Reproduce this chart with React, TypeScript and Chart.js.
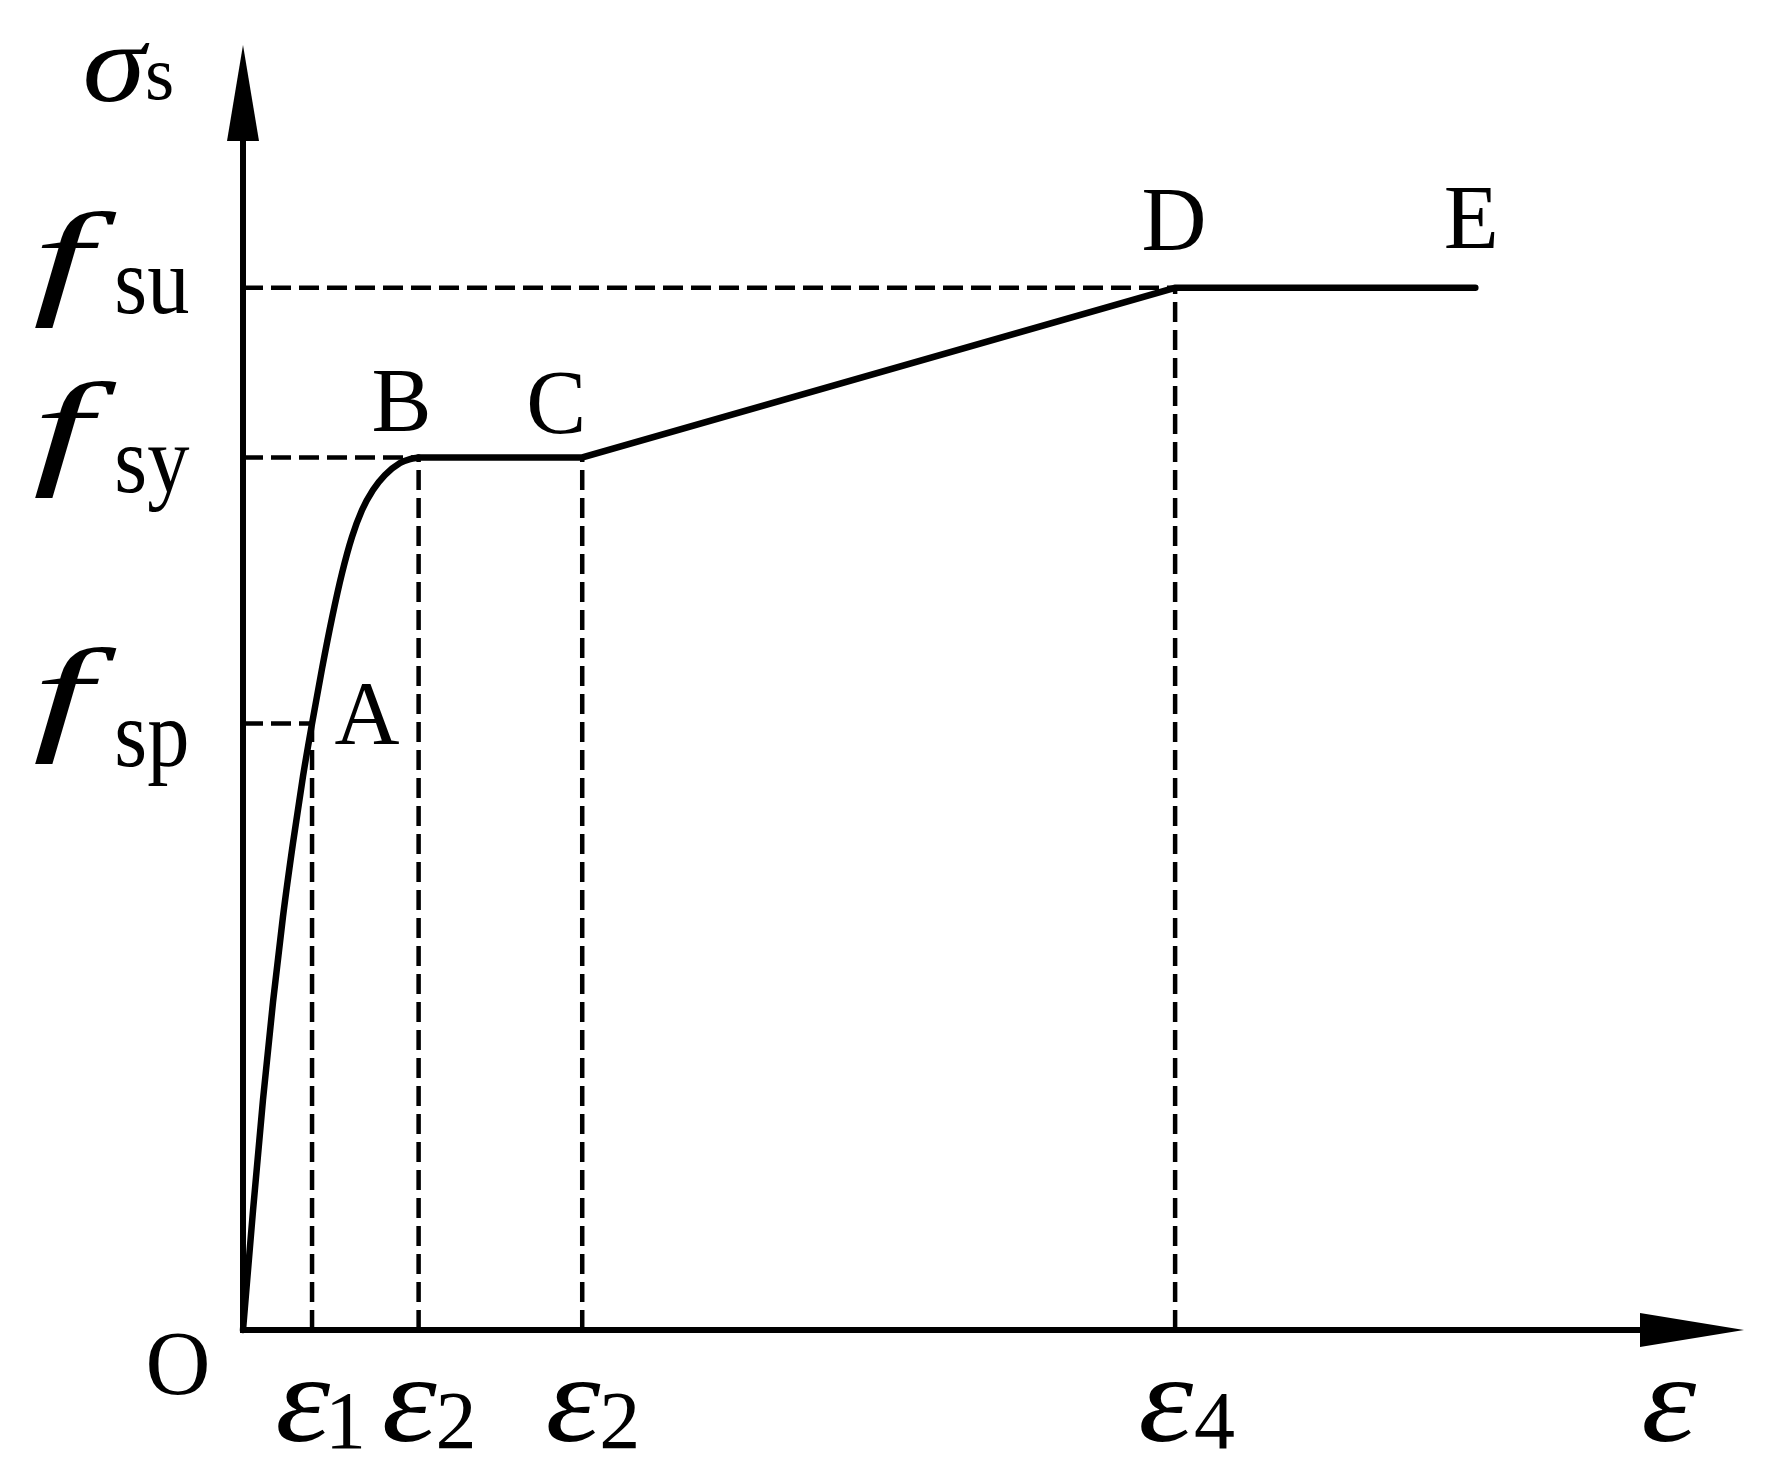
import { useEffect, useRef } from 'react';
import { Chart, registerables } from 'chart.js';

Chart.register(...registerables);

// ---- Data (axis units: strain 0..100, stress 0..100) ----
const curveStrain = [0, 0.67, 1.33, 2.0, 2.66, 3.33, 4.0, 4.6, 5.26, 5.93, 6.6, 7.26, 7.93, 8.66, 9.46, 10.46, 11.13, 11.7];
const curveStress = [0, 9.34, 17.9, 25.53, 32.14, 37.9, 43.11, 47.2, 51.44, 55.41, 58.91, 61.71, 63.81, 65.37, 66.54, 67.47, 67.78, 67.9];

const pointLabels = ['O', 'A', 'B', 'C', 'D', 'E'];
const pointStrain = [0, 4.6, 11.7, 22.6, 62.1, 82.1];
const pointStress = [0, 47.2, 67.9, 67.9, 81.1, 81.1];

const xTickValues = [4.6, 11.7, 22.6, 62.1];
const xTickSubs = ['1', '2', '2', '4'];
const xTickReach = [47.2, 67.9, 67.9, 81.1];

const yTickValues = [47.2, 67.9, 81.1];
const yTickSubs = ['sp', 'sy', 'su'];
const yTickReach = [4.6, 11.7, 62.1];

// ---- Styles ----
const SERIF = '"Liberation Serif", "Times New Roman", serif';
const ITALIC_CANDIDATES = ['"Liberation Serif"', '"DejaVu Serif"', '"Times New Roman"', 'serif', '"Noto Sans"', '"Open Sans"'];
const subBaseline: Record<string, number> = { sp: 43, sy: 35, su: 25 };
const letterOffset: Record<string, [number, number]> = {
  O: [-65, 64],
  A: [55, 21],
  B: [-17, -26],
  C: [-26, -24],
  D: [-1, -38],
  E: [-4, -40],
};

let italicFamily: string | null = null;
let italicTrue = false;
function pickItalic(ctx: CanvasRenderingContext2D) {
  if (italicFamily) return italicFamily;
  for (const fam of ITALIC_CANDIDATES) {
    ctx.font = `italic 100px ${fam}`;
    const m = ctx.measureText('f');
    if (m.actualBoundingBoxDescent > 12) {
      italicFamily = fam;
      italicTrue = true;
      return fam;
    }
  }
  italicFamily = SERIF;
  return SERIF;
}

function fitGlyph(
  ctx: CanvasRenderingContext2D,
  text: string,
  style: string,
  family: string,
  left: number,
  top: number,
  width: number | null,
  height: number,
) {
  ctx.font = `${style} 100px ${family}`;
  const m = ctx.measureText(text);
  const h = m.actualBoundingBoxAscent + m.actualBoundingBoxDescent;
  const w = m.actualBoundingBoxLeft + m.actualBoundingBoxRight;
  const ky = height / h;
  const kx = width ? width / w : ky;
  ctx.save();
  ctx.translate(left, top);
  ctx.scale(kx, ky);
  ctx.textAlign = 'left';
  ctx.textBaseline = 'alphabetic';
  ctx.fillText(text, m.actualBoundingBoxLeft, m.actualBoundingBoxAscent);
  ctx.restore();
  return left + w * kx;
}

function drawAt(ctx: CanvasRenderingContext2D, text: string, font: string, left: number, baseline: number, sx = 1) {
  ctx.font = font;
  const m = ctx.measureText(text);
  ctx.save();
  ctx.translate(left, baseline);
  ctx.scale(sx, 1);
  ctx.textAlign = 'left';
  ctx.textBaseline = 'alphabetic';
  ctx.fillText(text, m.actualBoundingBoxLeft, 0);
  ctx.restore();
}

const axesPlugin = {
  id: 'axesArrows',
  beforeDatasetsDraw(chart: any) {
    const { ctx, chartArea } = chart;
    const xs = chart.scales.x;
    const ys = chart.scales.y;
    const x0 = xs.getPixelForValue(0);
    const y0 = ys.getPixelForValue(0);
    ctx.save();
    ctx.strokeStyle = '#000';
    ctx.fillStyle = '#000';
    ctx.lineWidth = 6;
    ctx.lineCap = 'butt';
    ctx.beginPath();
    ctx.moveTo(x0, y0 + 3);
    ctx.lineTo(x0, chartArea.top + 60);
    ctx.stroke();
    ctx.beginPath();
    ctx.moveTo(x0 - 3, y0);
    ctx.lineTo(chartArea.right - 60, y0);
    ctx.stroke();
    ctx.beginPath();
    ctx.moveTo(x0, chartArea.top);
    ctx.lineTo(x0 - 16, chartArea.top + 96);
    ctx.lineTo(x0 + 16, chartArea.top + 96);
    ctx.closePath();
    ctx.fill();
    ctx.beginPath();
    ctx.moveTo(chartArea.right, y0);
    ctx.lineTo(chartArea.right - 104, y0 - 17);
    ctx.lineTo(chartArea.right - 104, y0 + 17);
    ctx.closePath();
    ctx.fill();
    ctx.restore();
  },
  afterDraw(chart: any) {
    const { ctx, chartArea } = chart;
    const xs = chart.scales.x;
    const ys = chart.scales.y;
    const x0 = xs.getPixelForValue(0);
    const y0 = ys.getPixelForValue(0);
    ctx.save();
    ctx.fillStyle = '#000';
    const ital = pickItalic(ctx);
    const fWidth = italicTrue ? 83 : 58;

    // y-axis tick labels f_sp, f_sy, f_su
    yTickValues.forEach((v, i) => {
      const py = ys.getPixelForValue(v);
      fitGlyph(ctx, 'f', 'italic', ital, x0 - 208, py - 76, fWidth, 116);
      drawAt(ctx, yTickSubs[i], `96px ${SERIF}`, x0 - 126, py + subBaseline[yTickSubs[i]], 0.88);
    });

    // x-axis tick labels eps_i
    xTickValues.forEach((v, i) => {
      const px = xs.getPixelForValue(v);
      const right = fitGlyph(ctx, 'ε', 'italic', ital, px - 34, y0 + 52, 53, 60);
      drawAt(ctx, xTickSubs[i], `82px ${SERIF}`, right + 1, y0 + 118);
    });

    // axis titles
    fitGlyph(ctx, 'σ', 'italic', ital, x0 - 158, chartArea.top - 2, 65, 59);
    fitGlyph(ctx, 's', '', SERIF, x0 - 95, chartArea.top + 18, 24, 37);
    fitGlyph(ctx, 'ε', 'italic', ital, chartArea.right - 100, y0 + 52, 53, 60);

    // point letters
    ctx.font = `90px ${SERIF}`;
    ctx.textAlign = 'center';
    ctx.textBaseline = 'alphabetic';
    pointLabels.forEach((lab, i) => {
      const px = xs.getPixelForValue(pointStrain[i]);
      const py = ys.getPixelForValue(pointStress[i]);
      const [dx, dy] = letterOffset[lab];
      ctx.fillText(lab, px + dx, py + dy);
    });
    ctx.restore();
  },
};

export default function App() {
  const ref = useRef<HTMLCanvasElement | null>(null);

  useEffect(() => {
    document.body.style.margin = '0';
    const canvas = ref.current;
    if (!canvas) return;

    const dashed = {
      borderColor: '#000',
      borderWidth: 4.5,
      borderDash: [20, 8],
      pointRadius: 0,
      tension: 0,
      clip: false,
      order: 1,
    };

    const datasets: any[] = [
      {
        data: curveStrain.map((x, i) => ({ x, y: curveStress[i] })),
        borderColor: '#000',
        borderWidth: 6.5,
        cubicInterpolationMode: 'monotone',
        pointRadius: 0,
        clip: false,
        order: 0,
        borderCapStyle: 'round',
        borderJoinStyle: 'round',
      },
      {
        data: pointStrain.slice(2).map((x, i) => ({ x, y: pointStress[i + 2] })),
        borderColor: '#000',
        borderWidth: 6.5,
        tension: 0,
        pointRadius: 0,
        clip: false,
        order: 0,
        borderCapStyle: 'round',
        borderJoinStyle: 'miter',
      },
      ...yTickValues.map((v, i) => ({
        ...dashed,
        data: [
          { x: 0, y: v },
          { x: yTickReach[i], y: v },
        ],
      })),
      ...xTickValues.map((v, i) => ({
        ...dashed,
        data: [
          { x: v, y: 0 },
          { x: v, y: xTickReach[i] },
        ],
      })),
    ];

    const chart = new Chart(canvas, {
      type: 'line',
      data: { datasets },
      options: {
        responsive: false,
        animation: false,
        devicePixelRatio: 1,
        layout: { padding: { left: 243, right: 26, top: 45, bottom: 146 } },
        scales: {
          x: { type: 'linear', min: 0, max: 100, display: false },
          y: { type: 'linear', min: 0, max: 100, display: false },
        },
        plugins: { legend: { display: false }, tooltip: { enabled: false } },
        elements: { point: { radius: 0 } },
      },
      plugins: [axesPlugin],
    } as any);

    return () => chart.destroy();
  }, []);

  return (
    <div style={{ width: 1770, height: 1476, background: '#fff' }}>
      <canvas ref={ref} width={1770} height={1476} style={{ display: 'block' }} />
    </div>
  );
}
